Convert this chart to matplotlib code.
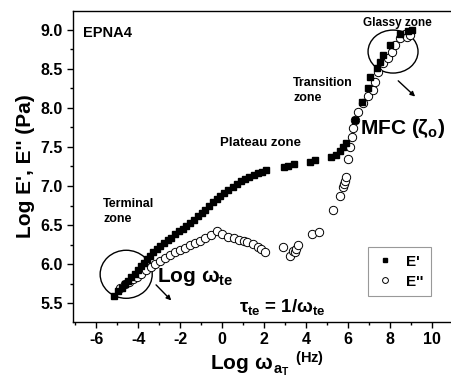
import matplotlib.pyplot as plt
from matplotlib.patches import Ellipse
from matplotlib.ticker import MultipleLocator

# E' (filled squares)
ep_x = [-5.15, -4.95, -4.78, -4.62, -4.47, -4.32, -4.17, -4.02, -3.87, -3.72,
        -3.57, -3.42, -3.27, -3.12, -2.95, -2.78, -2.60, -2.42, -2.24, -2.06,
        -1.88, -1.70, -1.52, -1.34, -1.16, -0.98, -0.80, -0.62, -0.44, -0.26,
        -0.08, 0.10, 0.30, 0.50, 0.70, 0.90, 1.10, 1.30, 1.50, 1.70, 1.90, 2.10,
        2.95, 3.15, 3.40, 4.20, 4.40, 5.20, 5.40, 5.60, 5.75, 5.90,
        6.33, 6.67, 6.95, 7.05, 7.38, 7.52, 7.67, 8.00, 8.48, 8.86, 9.05]
ep_y = [5.59, 5.65, 5.70, 5.74, 5.79, 5.83, 5.87, 5.92, 5.97, 6.02,
        6.07, 6.11, 6.15, 6.19, 6.23, 6.27, 6.31, 6.34, 6.38, 6.42,
        6.45, 6.49, 6.53, 6.57, 6.61, 6.65, 6.69, 6.74, 6.79, 6.83,
        6.87, 6.91, 6.95, 6.99, 7.03, 7.06, 7.09, 7.12, 7.14, 7.16, 7.18, 7.20,
        7.24, 7.26, 7.28, 7.31, 7.33, 7.37, 7.40, 7.45, 7.50, 7.55,
        7.85, 8.08, 8.26, 8.40, 8.51, 8.59, 8.68, 8.81, 8.94, 8.98, 9.00]

# E'' (open circles)
epp_x = [-4.86, -4.65, -4.45, -4.25, -4.05, -3.85, -3.62, -3.40, -3.18, -2.95,
         -2.72, -2.48, -2.24, -2.00, -1.76, -1.52, -1.28, -1.05, -0.82, -0.55,
         -0.24, 0.00, 0.29, 0.55, 0.80, 1.05, 1.20, 1.48, 1.71, 1.85, 2.05,
         2.90, 3.24, 3.38, 3.45, 3.52, 3.62, 4.29, 4.62, 5.29, 5.62, 5.76,
         5.81, 5.86, 5.92, 6.00, 6.10, 6.19, 6.24, 6.33, 6.48, 6.71, 6.95,
         7.19, 7.29, 7.43, 7.67, 7.90, 8.10, 8.24, 8.48, 8.71, 8.81, 8.95]
epp_y = [5.70, 5.74, 5.77, 5.81, 5.84, 5.88, 5.92, 5.96, 6.00, 6.04,
         6.08, 6.12, 6.15, 6.18, 6.21, 6.24, 6.27, 6.30, 6.33, 6.37,
         6.42, 6.38, 6.35, 6.33, 6.31, 6.30, 6.28, 6.26, 6.22, 6.19, 6.15,
         6.22, 6.10, 6.17, 6.15, 6.19, 6.24, 6.38, 6.41, 6.69, 6.87, 6.99,
         7.03, 7.07, 7.11, 7.35, 7.50, 7.63, 7.74, 7.85, 7.95, 8.06, 8.15,
         8.23, 8.33, 8.46, 8.58, 8.64, 8.72, 8.81, 8.90, 8.94, 8.91, 8.93]

plt.rcParams['font.family'] = ['Liberation Sans', 'DejaVu Sans']
plt.rcParams['font.weight'] = 'bold'
plt.rcParams['axes.unicode_minus'] = False
plt.rcParams['mathtext.fontset'] = 'custom'
plt.rcParams['mathtext.rm'] = 'Liberation Sans:bold'
plt.rcParams['mathtext.it'] = 'Liberation Sans:bold'
plt.rcParams['mathtext.bf'] = 'Liberation Sans:bold'

fig = plt.figure(figsize=(4.51, 3.77), dpi=100)
ax = fig.add_axes([0.162, 0.146, 0.858, 0.825])

ax.plot(ep_x, ep_y, 's', color='black', markersize=5, label="E'", zorder=3)
ax.plot(epp_x, epp_y, 'o', markerfacecolor='white', markeredgecolor='black',
        markeredgewidth=0.7, markersize=6, label="E''", zorder=2)

ax.set_xlim(-7.1, 11.33)
ax.set_ylim(5.26, 9.24)
ax.xaxis.set_major_locator(MultipleLocator(2))
ax.xaxis.set_minor_locator(MultipleLocator(1))
ax.yaxis.set_major_locator(MultipleLocator(0.5))
ax.yaxis.set_minor_locator(MultipleLocator(0.25))
ax.tick_params(which='major', direction='out', length=4, width=1, labelsize=11.5)
ax.tick_params(which='minor', direction='out', length=2.5, width=1)
ax.yaxis.set_major_formatter(plt.FormatStrFormatter('%.1f'))
for s in ax.spines.values():
    s.set_linewidth(1)

ax.set_ylabel("Log E', E'' (Pa)", fontsize=15, fontweight='bold', labelpad=4)
ax.set_xlabel(r"Log $\omega_{\,a_T}$ $^{(Hz)}$", fontsize=15, fontweight='bold', labelpad=1)

# annotations
ax.text(-6.62, 8.96, "EPNA4", fontsize=10.5, fontweight='bold', va='center', ha='left')
ax.text(8.33, 9.08, "Glassy zone", fontsize=8.5, fontweight='bold', va='center', ha='center')
ax.text(3.38, 8.22, "Transition\nzone", fontsize=9, fontweight='bold', va='center', ha='left',
        linespacing=1.3)
ax.text(1.81, 7.55, "Plateau zone", fontsize=9.5, fontweight='bold', va='center', ha='center')
ax.text(-5.67, 6.67, "Terminal\nzone", fontsize=9, fontweight='bold', va='center', ha='left',
        linespacing=1.3)
ax.text(6.55, 7.74, r"MFC ($\zeta_o$)", fontsize=15, fontweight='bold', va='center', ha='left')
ax.text(-3.1, 5.83, r"Log $\omega_{te}$", fontsize=15, fontweight='bold', va='center', ha='left')
ax.text(2.86, 5.45, r"$\tau_{te}$ = 1/$\omega_{te}$", fontsize=13.5, fontweight='bold',
        va='center', ha='center')

ax.add_patch(Ellipse((-4.57, 5.87), 2.48, 0.615, fill=False, edgecolor='black', lw=1))
ax.add_patch(Ellipse((8.14, 8.72), 2.38, 0.55, fill=False, edgecolor='black', lw=1))
ax.annotate("", xy=(-2.33, 5.51), xytext=(-3.24, 5.76),
            arrowprops=dict(arrowstyle='-|>', color='black', lw=1, mutation_scale=7))
ax.annotate("", xy=(9.29, 8.12), xytext=(8.29, 8.37),
            arrowprops=dict(arrowstyle='-|>', color='black', lw=1, mutation_scale=7))

leg = ax.legend(loc='lower right', bbox_to_anchor=(0.946, 0.058),
                prop={'weight': 'bold', 'size': 11}, markerscale=0.7, fancybox=False,
                edgecolor='gray', handlelength=1.2, handletextpad=0.8,
                borderpad=0.5, labelspacing=0.4)
leg.get_frame().set_linewidth(0.8)

plt.savefig("out.png", dpi=100)
